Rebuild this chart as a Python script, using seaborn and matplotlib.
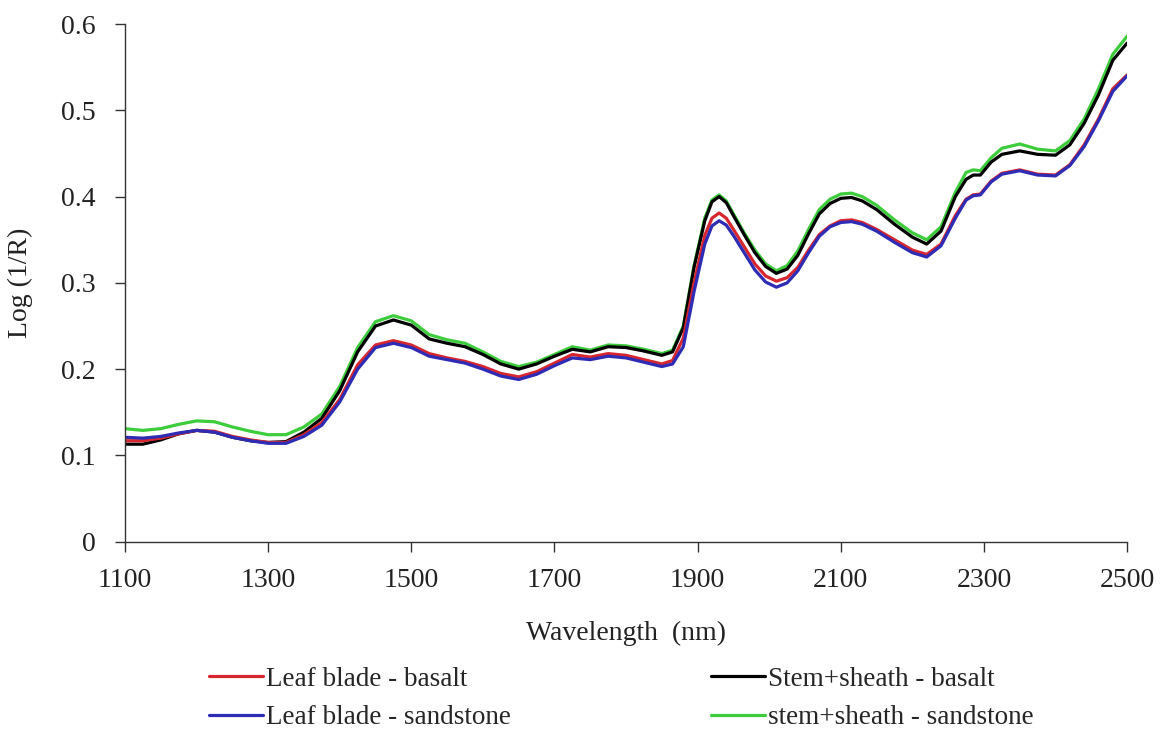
import numpy as np
import pandas as pd
import matplotlib
matplotlib.use("Agg")
import matplotlib.pyplot as plt
import seaborn as sns

# Wavelength grid (nm)
wavelength = [1100, 1125, 1150, 1175, 1200, 1225, 1250, 1275, 1300, 1325,
              1350, 1375, 1400, 1425, 1450, 1475, 1500, 1525, 1550, 1575,
              1600, 1625, 1650, 1675, 1700, 1725, 1750, 1775, 1800, 1825,
              1850, 1865, 1880, 1895, 1910, 1920, 1930, 1940, 1950, 1965,
              1980, 1995, 2010, 2025, 2040, 2055, 2070, 2085, 2100, 2115,
              2130, 2150, 2175, 2200, 2220, 2240, 2260, 2275, 2285, 2295,
              2310, 2325, 2350, 2375, 2400, 2420, 2440, 2460, 2480, 2500]

# Mean Log(1/R) spectra
leaf_basalt = [.117, .117, .120, .125, .129, .128, .122, .118, .115, .115,
               .124, .138, .165, .205, .228, .233, .228, .218, .213, .209,
               .203, .195, .191, .197, .207, .217, .214, .218, .216, .211,
               .206, .210, .236, .300, .355, .375, .381, .375, .362, .342,
               .322, .308, .302, .306, .318, .338, .356, .366, .372, .373,
               .370, .362, .350, .338, .333, .345, .378, .397, .402, .403,
               .418, .427, .431, .426, .425, .437, .460, .490, .525, .541]

leaf_sandstone = [.121, .120, .122, .126, .129, .127, .121, .117, .114, .114,
                  .122, .135, .162, .200, .225, .230, .225, .215, .211, .207,
                  .200, .192, .188, .194, .204, .213, .211, .215, .213, .208,
                  .203, .206, .226, .290, .345, .366, .372, .367, .355, .335,
                  .315, .301, .295, .300, .314, .335, .354, .365, .370, .371,
                  .368, .360, .347, .335, .330, .343, .375, .396, .401, .402,
                  .417, .426, .430, .425, .424, .436, .458, .488, .522, .540]

stem_basalt = [.113, .113, .118, .125, .129, .127, .121, .117, .115, .116,
               .127, .143, .175, .220, .250, .257, .251, .235, .230, .226,
               .217, .206, .200, .206, .215, .223, .220, .226, .225, .221,
               .216, .220, .248, .318, .372, .394, .400, .393, .378, .356,
               .335, .319, .311, .316, .332, .357, .380, .392, .398, .399,
               .395, .385, .368, .353, .345, .360, .400, .420, .425, .425,
               .440, .449, .453, .449, .448, .460, .485, .518, .558, .578]

stem_sandstone = [.131, .129, .131, .136, .140, .139, .133, .128, .124, .124,
                  .133, .148, .180, .225, .255, .262, .256, .240, .234, .230,
                  .220, .209, .203, .208, .217, .226, .222, .228, .227, .223,
                  .218, .222, .250, .320, .375, .396, .402, .395, .380, .358,
                  .338, .322, .314, .320, .337, .362, .385, .397, .403, .404,
                  .400, .390, .373, .358, .350, .365, .405, .428, .431, .430,
                  .445, .456, .461, .455, .453, .465, .490, .525, .565, .586]

labels = ["Leaf blade - basalt", "Leaf blade - sandstone",
          "Stem+sheath - basalt", "stem+sheath - sandstone"]
series = [leaf_basalt, leaf_sandstone, stem_basalt, stem_sandstone]
colors = ["#d8262e", "#2e2bb4", "#000000", "#3ccc3c"]
xticks = [1100, 1300, 1500, 1700, 1900, 2100, 2300, 2500]
yticks = [0, 0.1, 0.2, 0.3, 0.4, 0.5, 0.6]
ytick_labels = ["0", "0.1", "0.2", "0.3", "0.4", "0.5", "0.6"]

df = pd.concat([pd.DataFrame({"Wavelength": wavelength, "value": v, "series": lab})
                for lab, v in zip(labels, series)], ignore_index=True)

sns.set_style("ticks")
plt.rcParams["font.family"] = ["Liberation Serif", "DejaVu Serif"]

fig = plt.figure(figsize=(11.68, 7.30), dpi=100)
ax = fig.add_axes([0.107, 0.258, 0.858, 0.709])

palette = dict(zip(labels, colors))
# stem curves first so the leaf curves and black line sit on top
draw_order = [labels[3], labels[2], labels[0], labels[1]]
for lab in draw_order:
    sns.lineplot(data=df[df["series"] == lab], x="Wavelength", y="value",
                 color=palette[lab], linewidth=2.3, ax=ax, label=lab,
                 sort=False, legend=False)

ax.set_xlim(1100, 2500)
ax.set_ylim(0, 0.6)
ax.set_xticks(xticks)
ax.set_yticks(yticks)
ax.set_yticklabels(ytick_labels)
ax.tick_params(axis="both", labelsize=20, direction="out", length=7,
               width=1.0, color="#333333", labelcolor="#222222")
ax.tick_params(axis="x", pad=12)
ax.tick_params(axis="y", pad=14)
for side in ["top", "right"]:
    ax.spines[side].set_visible(False)
for side in ["left", "bottom"]:
    ax.spines[side].set_linewidth(1.0)
    ax.spines[side].set_color("#333333")

ax.set_xlabel("Wavelength  (nm)", fontsize=20, color="#222222", labelpad=20)
ax.set_ylabel("Log (1/R)", fontsize=20, color="#222222", labelpad=20)

handles = {line.get_label(): line for line in ax.get_lines()}
ordered = [handles[l] for l in labels]
fig.legend(ordered, labels, ncol=2, loc="center", bbox_to_anchor=(0.532, 0.043),
           frameon=False, fontsize=19.5, handlelength=2.0, handletextpad=0.1,
           columnspacing=7.4, labelspacing=0.5)

fig.savefig("out.png", dpi=100, facecolor="white")
